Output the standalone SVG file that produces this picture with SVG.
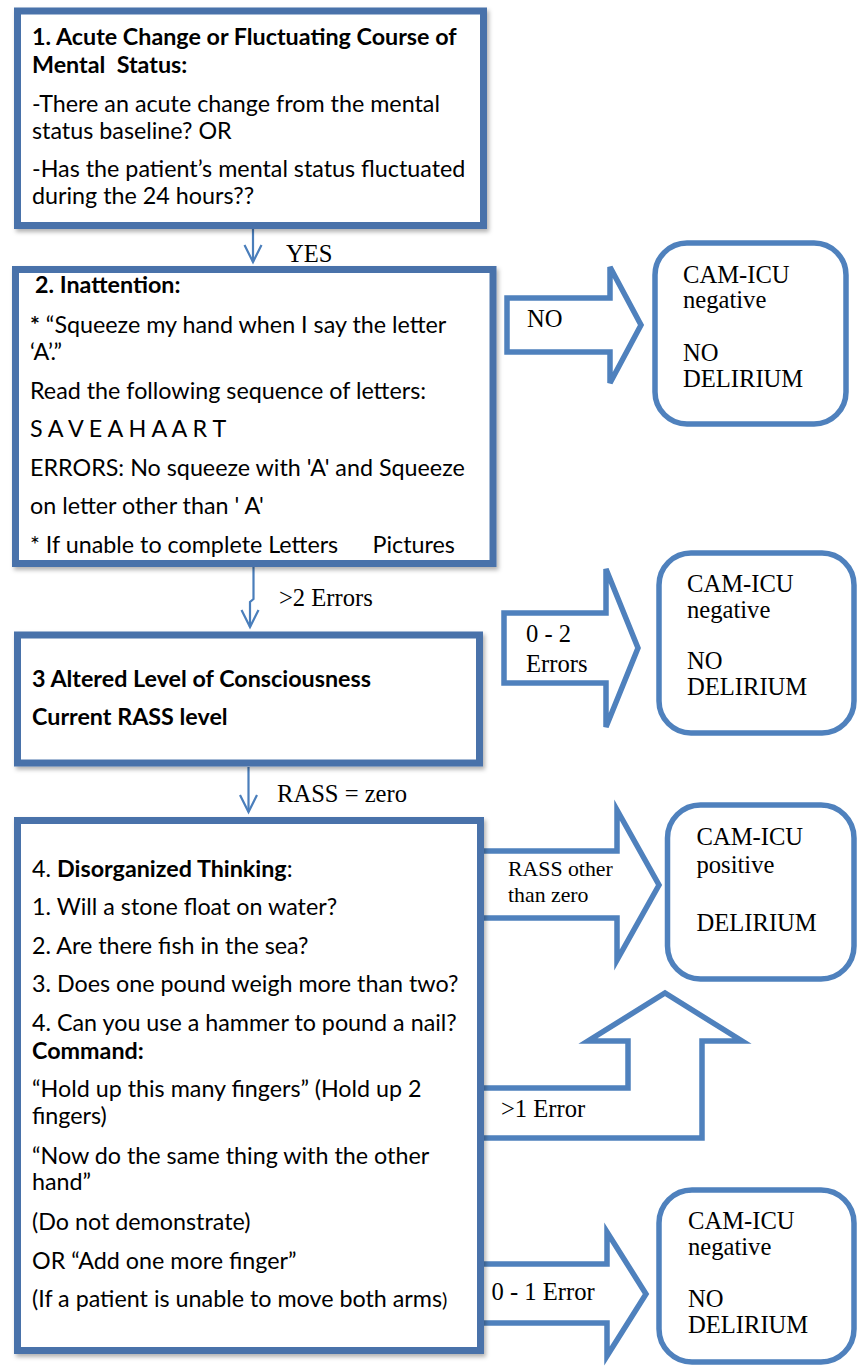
<svg xmlns="http://www.w3.org/2000/svg" width="858" height="1366" viewBox="0 0 858 1366">
<style>
.box{fill:#fff;stroke:#4872aa;stroke-width:7;filter:url(#sh)}
.out{fill:#fff;stroke:#4f81bd;stroke-width:5.5;stroke-linejoin:miter}
.rbox{fill:#fff;stroke:#4f81bd;stroke-width:5.5}
.con{fill:none;stroke:#4a7ebb;stroke-width:2.2;marker-end:url(#chev)}
.t{font-family:Lato,"Liberation Sans",sans-serif;font-size:23.3px;fill:#000}
.b{font-weight:bold}
.s{font-family:"Liberation Serif","Times New Roman",serif;font-size:24.6px;fill:#000}
.s2{font-family:"Liberation Serif","Times New Roman",serif;font-size:21.8px;fill:#000}
</style>
<defs>
<filter id="sh" x="-5%" y="-5%" width="115%" height="115%">
<feDropShadow dx="2" dy="3" stdDeviation="2" flood-color="#000" flood-opacity="0.3"/>
</filter>
<marker id="chev" markerUnits="userSpaceOnUse" viewBox="-20 -11 24 22" refX="0" refY="0" markerWidth="24" markerHeight="22" orient="auto">
<path d="M-17,-8.5 L0,0 L-17,8.5" fill="none" stroke="#4a7ebb" stroke-width="2.2"/>
</marker>
</defs>

<g id="connectors">
<path class="con" d="M253,229 V262"/>
<path class="con" d="M253.5,567 V599 L250,602 V627"/>
<path class="con" d="M248.5,767 V812"/>
<text class="s" x="286" y="261.5">YES</text>
<text class="s" x="279" y="606">&gt;2 Errors</text>
<text class="s" x="277" y="801.5">RASS = zero</text>
</g>

<g id="arrow-no">
<polygon class="out" points="507,298 610,298 610,267 641,325 610,383 610,352 507,352"/>
<text class="s" x="527" y="327">NO</text>
</g>
<g id="arrow-0-2">
<polygon class="out" points="504,613 606,613 606,569 638,648 606,727 606,683 504,683"/>
<text class="s" x="526" y="641.5">0 - 2</text>
<text class="s" x="526" y="671.5">Errors</text>
</g>
<g id="arrow-rass">
<polygon class="out" points="481,851 617,851 617,810 659,885 617,960 617,918 481,918"/>
<text class="s2" x="508" y="876">RASS other</text>
<text class="s2" x="508" y="901.5">than zero</text>
</g>
<g id="arrow-gt1">
<polygon class="out" points="481,1088 628,1088 628,1041 588,1041 665,993 742,1041 702,1041 702,1138 481,1138"/>
<text class="s" x="501" y="1116.5">&gt;1 Error</text>
</g>
<g id="arrow-0-1">
<polygon class="out" points="481,1264 607,1264 607,1232 646,1294 607,1356 607,1323 481,1323"/>
<text class="s" x="491.5" y="1300">0 - 1 Error</text>
</g>

<g id="node1">
<rect class="box" x="17.5" y="11" width="466" height="214.5"/>
<text class="t b" x="32" y="45">1. Acute Change or Fluctuating Course of</text>
<text class="t b" x="32" y="72.5" xml:space="preserve">Mental  Status:</text>
<text class="t" x="32" y="111.5">-There an acute change from the mental</text>
<text class="t" x="32" y="138.5">status baseline? OR</text>
<text class="t" x="32" y="176.5">-Has the patient’s mental status fluctuated</text>
<text class="t" x="32" y="204">during the 24 hours??</text>
</g>

<g id="node2">
<rect class="box" x="15.5" y="269.5" width="477.5" height="294"/>
<text class="t b" x="35" y="293">2. Inattention:</text>
<text class="t" x="30" y="332.5"><tspan class="b">*</tspan> “Squeeze my hand when I say the letter</text>
<text class="t" x="30" y="359.5">‘A’.”</text>
<text class="t" x="30" y="398.5">Read the following sequence of letters:</text>
<text class="t" x="30" y="437">S A V E A H A A R T</text>
<text class="t" x="30" y="476">ERRORS: No squeeze with 'A' and Squeeze</text>
<text class="t" x="30" y="514">on letter other than ' A'</text>
<text class="t" x="30" y="552.5">* If unable to complete Letters<tspan x="372.5">Pictures</tspan></text>
</g>

<g id="node3">
<rect class="box" x="17.5" y="635" width="462" height="128"/>
<text class="t b" x="32" y="686.5">3 Altered Level of Consciousness</text>
<text class="t b" x="32" y="725">Current RASS level</text>
</g>

<g id="node4">
<rect class="box" x="17.5" y="820.5" width="463" height="530"/>
<text class="t" x="32" y="876.5">4. <tspan class="b">Disorganized Thinking</tspan>:</text>
<text class="t" x="32" y="915">1. Will a stone float on water?</text>
<text class="t" x="32" y="953.5">2. Are there fish in the sea?</text>
<text class="t" x="32" y="991.5">3. Does one pound weigh more than two?</text>
<text class="t" x="32" y="1030.5">4. Can you use a hammer to pound a nail?</text>
<text class="t b" x="32" y="1058.5">Command:</text>
<text class="t" x="32" y="1096.5">“Hold up this many fingers” (Hold up 2</text>
<text class="t" x="32" y="1124">fingers)</text>
<text class="t" x="32" y="1163.5">“Now do the same thing with the other</text>
<text class="t" x="32" y="1190">hand”</text>
<text class="t" x="32" y="1229.5">(Do not demonstrate)</text>
<text class="t" x="32" y="1268.5">OR “Add one more finger”</text>
<text class="t" x="32" y="1306.5">(If a patient is unable to move both arms<tspan font-size="20">)</tspan></text>
</g>

<g id="result1">
<rect class="rbox" x="655" y="243" width="191" height="181" rx="32"/>
<text class="s" x="683" y="282.5">CAM-ICU</text>
<text class="s" x="683" y="308">negative</text>
<text class="s" x="683" y="360.5">NO</text>
<text class="s" x="683" y="386.5">DELIRIUM</text>
</g>

<g id="result2">
<rect class="rbox" x="659" y="553" width="195" height="180" rx="32"/>
<text class="s" x="687" y="591.5">CAM-ICU</text>
<text class="s" x="687" y="617.5">negative</text>
<text class="s" x="687" y="669">NO</text>
<text class="s" x="687" y="695">DELIRIUM</text>
</g>

<g id="result3">
<rect class="rbox" x="667.5" y="805" width="186.5" height="174" rx="33"/>
<text class="s" x="696.5" y="845">CAM-ICU</text>
<text class="s" x="696.5" y="873">positive</text>
<text class="s" x="696.5" y="930.5">DELIRIUM</text>
</g>

<g id="result4">
<rect class="rbox" x="659" y="1190" width="195" height="172" rx="33"/>
<text class="s" x="688" y="1229">CAM-ICU</text>
<text class="s" x="688" y="1255">negative</text>
<text class="s" x="688" y="1306.5">NO</text>
<text class="s" x="688" y="1333">DELIRIUM</text>
</g>
</svg>
